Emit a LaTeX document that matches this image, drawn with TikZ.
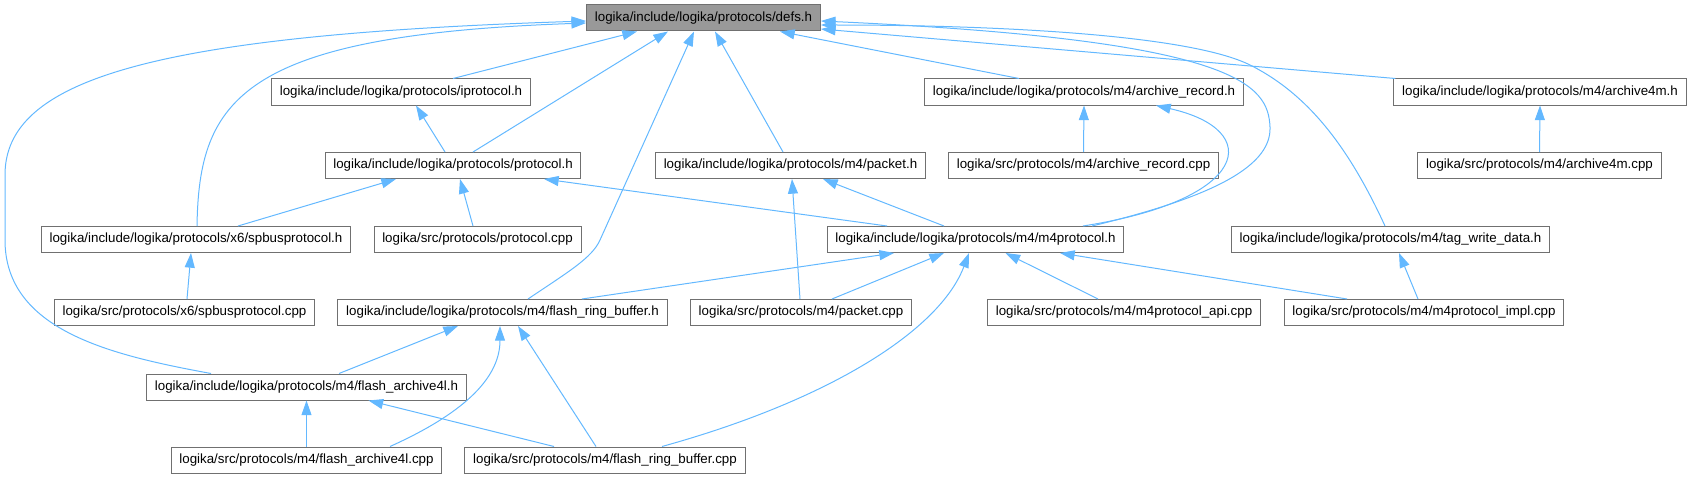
\documentclass[tikz,border=0pt]{standalone}
\usepackage{fontspec}
\setmainfont{Liberation Sans}
\usetikzlibrary{arrows.meta,calc}
\definecolor{edgeblue}{HTML}{63B8FF}
\definecolor{boxgray}{HTML}{707070}
\definecolor{rootfill}{HTML}{999999}

\begin{document}
\begin{tikzpicture}[
  x=0.75pt,y=-0.75pt,
  file/.style={draw=boxgray,fill=white,line width=0.75pt,minimum height=19.5pt,
    inner xsep=6.2pt,inner ysep=0pt,font=\fontsize{10}{12}\selectfont},
  root/.style={file,fill=rootfill},
  arr/.style={-{Triangle[length=11pt,width=7.5pt]},edgeblue,line width=0.75pt}
]
\useasboundingbox (0,0) rectangle (1691,478);
% headers and sources, row by row
\node[root] (defs) at (703.5,18) {logika/include/logika/protocols/defs.h};
\node[file] (iprot) at (401,92) {logika/include/logika/protocols/iprotocol.h};
\node[file] (arec) at (1084,92) {logika/include/logika/protocols/m4/archive\_record.h};
\node[file] (a4m) at (1540,92) {logika/include/logika/protocols/m4/archive4m.h};
\node[file] (prot) at (453,165.5) {logika/include/logika/protocols/protocol.h};
\node[file] (packh) at (790.5,165.5) {logika/include/logika/protocols/m4/packet.h};
\node[file] (areccpp) at (1083.5,165.5) {logika/src/protocols/m4/archive\_record.cpp};
\node[file] (a4mcpp) at (1539.5,165.5) {logika/src/protocols/m4/archive4m.cpp};
\node[file] (spbh) at (196,239.5) {logika/include/logika/protocols/x6/spbusprotocol.h};
\node[file] (protcpp) at (477.5,239.5) {logika/src/protocols/protocol.cpp};
\node[file] (m4h) at (975.5,239.5) {logika/include/logika/protocols/m4/m4protocol.h};
\node[file] (tagh) at (1390.5,239.5) {logika/include/logika/protocols/m4/tag\_write\_data.h};
\node[file] (spbcpp) at (184.5,312.5) {logika/src/protocols/x6/spbusprotocol.cpp};
\node[file] (frbh) at (502.5,312.5) {logika/include/logika/protocols/m4/flash\_ring\_buffer.h};
\node[file] (packcpp) at (801,312.5) {logika/src/protocols/m4/packet.cpp};
\node[file] (apicpp) at (1124,312.5) {logika/src/protocols/m4/m4protocol\_api.cpp};
\node[file] (implcpp) at (1424,312.5) {logika/src/protocols/m4/m4protocol\_impl.cpp};
\node[file] (fa4lh) at (306.5,387) {logika/include/logika/protocols/m4/flash\_archive4l.h};
\node[file] (fa4lcpp) at (306.5,460) {logika/src/protocols/m4/flash\_archive4l.cpp};
\node[file] (frbcpp) at (605,460) {logika/src/protocols/m4/flash\_ring\_buffer.cpp};

% includes of defs.h
\draw[arr] ($(iprot.north)+(52,0)$) -- ($(defs.south)+(-66.5,0)$);
\draw[arr] ($(prot.north)+(20,0)$) -- ($(defs.south)+(-35.5,0)$);
\draw[arr] ($(packh.north)+(-7.5,0)$) -- ($(defs.south)+(11.5,0)$);
\draw[arr] ($(arec.north)+(-65,0)$) -- ($(defs.south)+(76.5,0)$);
\draw[arr] ($(a4m.north west)+(2,0)$) -- ($(defs.east)+(0,11)$);
\draw[arr] ($(spbh.north)+(1,0)$) .. controls (199,100) and (240,35) .. ($(defs.west)+(0,5)$);
\draw[arr] ($(fa4lh.north)+(-95.5,0)$) .. controls (110,355) and (5,330) .. (5,240)
  -- (5,175) .. controls (5,80) and (150,35) .. ($(defs.west)+(0,3)$);
\draw[arr] ($(frbh.north)+(25.5,0)$) .. controls (568,272) and (592,258) .. (600,240)
  -- ($(defs.south)+(-9.5,0)$);
\draw[arr] ($(m4h.north)+(116.5,0)$) .. controls (1200,200) and (1272,170) .. (1270,127)
  .. controls (1268,85) and (1240,40) .. ($(defs.east)+(0,3)$);
\draw[arr] ($(tagh.north)+(-5.5,0)$) .. controls (1350,150) and (1310,95) .. (1250,65)
  .. controls (1190,35) and (1000,25) .. ($(defs.east)+(0,7)$);

% the other includes
\draw[arr] ($(m4h.north)+(107.5,0)$) .. controls (1250,200) and (1265,130) .. ($(arec.south)+(72,0)$);
\draw[arr] ($(prot.north)+(-8,0)$) -- ($(iprot.south)+(15,0)$);
\draw[arr] (areccpp.north) -- (arec.south);
\draw[arr] (a4mcpp.north) -- (a4m.south);
\draw[arr] ($(spbh.north)+(42,0)$) -- ($(prot.south)+(-57,0)$);
\draw[arr] ($(protcpp.north)+(-4.5,0)$) -- ($(prot.south)+(7,0)$);
\draw[arr] ($(m4h.north)+(-88.5,0)$) -- ($(prot.south)+(91,0)$);
\draw[arr] ($(m4h.north)+(-31.5,0)$) -- ($(packh.south)+(32.5,0)$);
\draw[arr] ($(packcpp.north)+(-1,0)$) -- ($(packh.south)+(1.5,0)$);
\draw[arr] ($(spbcpp.north)+(2.5,0)$) -- ($(spbh.south)+(-5,0)$);
\draw[arr] ($(frbh.north)+(79.5,0)$) -- ($(m4h.south)+(-81.5,0)$);
\draw[arr] ($(packcpp.north)+(31,0)$) -- ($(m4h.south)+(-31.5,0)$);
\draw[arr] ($(frbcpp.north)+(57,0)$) .. controls (830,400) and (940,330) .. ($(m4h.south)+(-6.5,0)$);
\draw[arr] ($(apicpp.north)+(-26,0)$) -- ($(m4h.south)+(30,0)$);
\draw[arr] ($(implcpp.north)+(-77,0)$) -- ($(m4h.south)+(84.5,0)$);
\draw[arr] ($(implcpp.north)+(-6,0)$) -- ($(tagh.south)+(8.5,0)$);
\draw[arr] ($(fa4lh.north)+(32.5,0)$) -- ($(frbh.south)+(-44.5,0)$);
\draw[arr] ($(fa4lcpp.north)+(83.5,0)$) .. controls (460,415) and (500,380) .. ($(frbh.south)+(-2.5,0)$);
\draw[arr] ($(frbcpp.north)+(-9,0)$) -- ($(frbh.south)+(15.5,0)$);
\draw[arr] (fa4lcpp.north) -- (fa4lh.south);
\draw[arr] ($(frbcpp.north)+(-51,0)$) -- ($(fa4lh.south)+(62,0)$);
\end{tikzpicture}
\end{document}
